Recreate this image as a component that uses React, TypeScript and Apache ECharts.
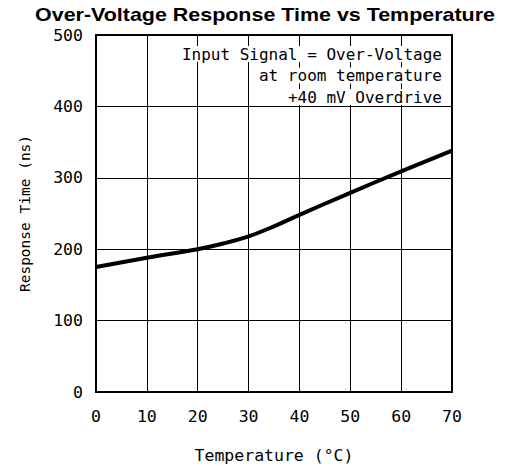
import React, { useEffect, useRef } from "react";
import * as echarts from "echarts";

const temperatures = [0, 10, 20, 25, 30, 35, 40, 50, 60, 70];
const responseTimes = [175, 188, 200, 208, 218, 232, 248, 279, 309, 338];
const annotationLines = [
  "Input Signal = Over-Voltage",
  "at room temperature",
  "+40 mV Overdrive",
];
const titleText = "Over-Voltage Response Time vs Temperature";

const FONT = "DejaVu Sans Mono";

export default function App() {
  const ref = useRef<HTMLDivElement>(null);
  useEffect(() => {
    if (!ref.current) return;
    const chart = echarts.init(ref.current, undefined, { renderer: "svg" });
    const data = temperatures.map((t, i) => [t, responseTimes[i]]);
    chart.setOption({
      animation: false,
      backgroundColor: "#fff",
      grid: { left: 96, right: 54, top: 35, bottom: 78 },
      xAxis: {
        type: "value",
        min: 0,
        max: 70,
        interval: 10,
        name: "Temperature (°C)",
        nameLocation: "middle",
        nameGap: 55,
        nameTextStyle: { fontFamily: FONT, fontSize: 16.5, color: "#000" },
        axisLine: { show: true, lineStyle: { color: "#000", width: 2 } },
        axisTick: { show: false },
        axisLabel: {
          fontFamily: FONT,
          fontSize: 16.5,
          color: "#000",
          margin: 16,
        },
        splitLine: { show: true, lineStyle: { color: "#000", width: 1 } },
      },
      yAxis: {
        type: "value",
        min: 0,
        max: 500,
        interval: 100,
        name: "Response Time (ns)",
        nameLocation: "middle",
        nameGap: 64,
        nameTextStyle: { fontFamily: FONT, fontSize: 14.5, color: "#000" },
        axisLine: { show: true, lineStyle: { color: "#000", width: 2 } },
        axisTick: { show: false },
        axisLabel: {
          fontFamily: FONT,
          fontSize: 16.5,
          color: "#000",
          margin: 13,
        },
        splitLine: { show: true, lineStyle: { color: "#000", width: 1 } },
      },
      graphic: [
        {
          type: "text",
          x: 265,
          y: 15,
          scaleX: 1.16,
          style: {
            text: titleText,
            fontFamily: "Liberation Sans",
            fontWeight: "bold",
            fontSize: 18.5,
            fill: "#000",
            align: "center",
            verticalAlign: "middle",
          },
        },
        {
          type: "rect",
          shape: { x: 96, y: 35, width: 356, height: 357 },
          style: { fill: "none", stroke: "#000", lineWidth: 2 },
          z: 100,
        },
        ...annotationLines.map((line, i) => ({
          type: "text",
          x: 444,
          y: 54 + i * 21.5,
          z: 50,
          style: {
            text: line,
            fontFamily: FONT,
            fontSize: 16,
            fill: "#000",
            align: "right",
            verticalAlign: "middle",
            backgroundColor: "#fff",
            padding: [0, 2],
          },
        })),
      ],
      series: [
        {
          type: "line",
          data,
          smooth: 0.4,
          showSymbol: false,
          symbol: "none",
          lineStyle: { color: "#000", width: 4 },
          z: 10,
        },
      ],
    });
    return () => chart.dispose();
  }, []);
  return (
    <div
      ref={ref}
      style={{ position: "absolute", left: 0, top: 0, width: 506, height: 470 }}
    />
  );
}
